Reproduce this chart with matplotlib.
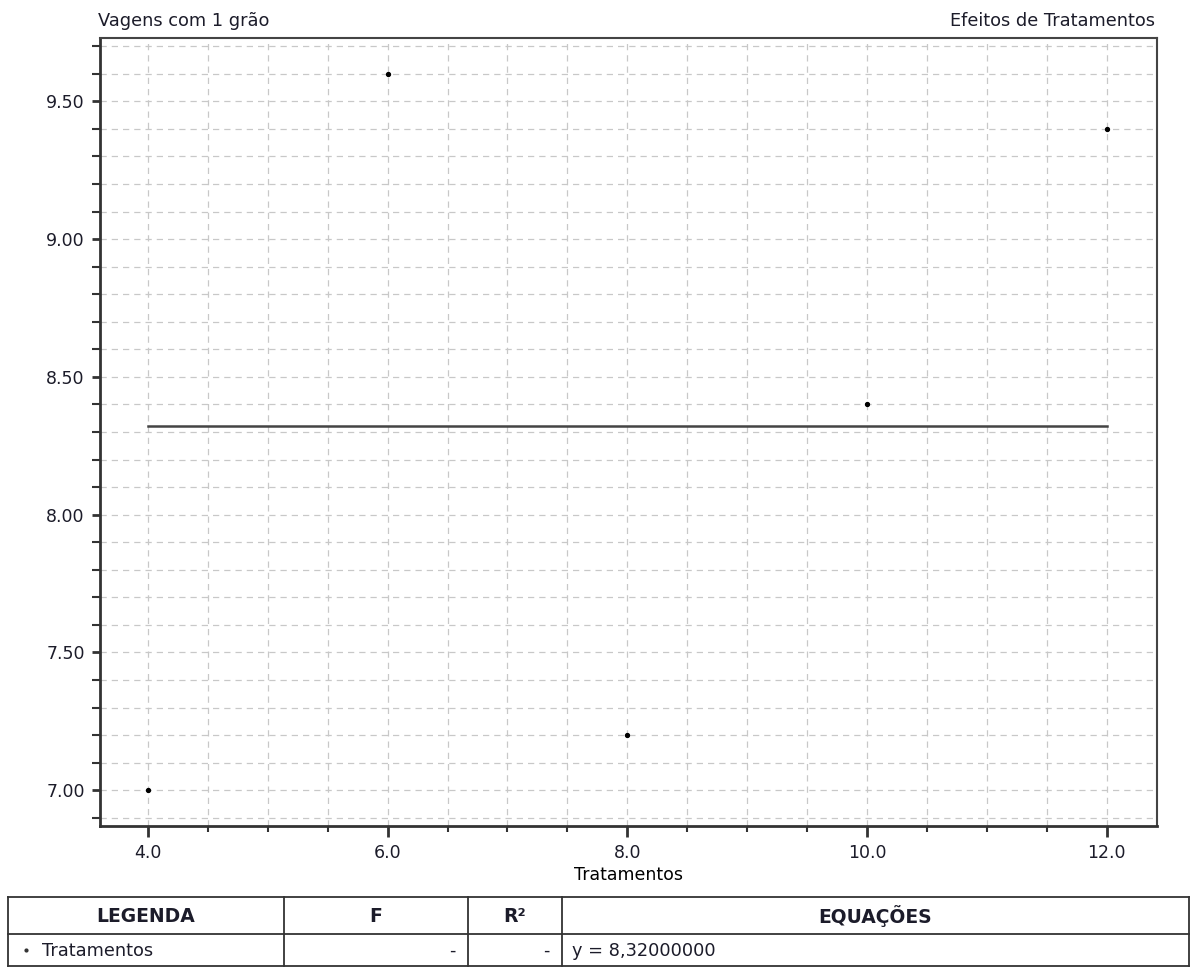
import numpy as np
import matplotlib.pyplot as plt
from matplotlib.ticker import MultipleLocator, FormatStrFormatter

plt.rcParams['font.family'] = ['DejaVu Sans']
plt.rcParams['text.color'] = '#1c1c2a'
plt.rcParams['xtick.labelcolor'] = '#1c1c2a'
plt.rcParams['ytick.labelcolor'] = '#1c1c2a'

# treatment levels and observed means
tratamentos = [4.0, 6.0, 8.0, 10.0, 12.0]
vagens = [7.0, 9.6, 7.2, 8.4, 9.4]
media = 8.32

# summary table below the chart
col_headers = ['LEGENDA', 'F', 'R²', 'EQUAÇÕES']
row_values = ['Tratamentos', '-', '-', 'y = 8,32000000']

W, H = 1192, 967
fig = plt.figure(figsize=(W / 100, H / 100), dpi=100)
ax = fig.add_axes([100 / W, 1 - 826 / H, (1157 - 100) / W, (826 - 38) / H])

ax.plot([tratamentos[0], tratamentos[-1]], [media, media], color='#444444', lw=1.8, zorder=3)
ax.plot(tratamentos, vagens, 'o', color='black', markersize=2.8, zorder=4)

ax.set_xlim(3.6, 12.42)
ax.set_ylim(6.87, 9.73)
ax.xaxis.set_major_locator(MultipleLocator(2.0))
ax.xaxis.set_minor_locator(MultipleLocator(0.5))
ax.yaxis.set_major_locator(MultipleLocator(0.5))
ax.yaxis.set_minor_locator(MultipleLocator(0.1))
ax.xaxis.set_major_formatter(FormatStrFormatter('%.1f'))
ax.yaxis.set_major_formatter(FormatStrFormatter('%.2f'))

ax.grid(which='both', color='#c8c8c8', linestyle=(0, (5, 4)), lw=0.9)
ax.set_axisbelow(True)

for side in ['left', 'bottom']:
    ax.spines[side].set_linewidth(2.0)
    ax.spines[side].set_color('#333333')
for side in ['top', 'right']:
    ax.spines[side].set_linewidth(1.5)
    ax.spines[side].set_color('#444444')

ax.tick_params(axis='x', which='major', length=8, width=2, color='#333333', labelsize=12.5, pad=5)
ax.tick_params(axis='x', which='minor', length=4, width=1.5, color='#333333')
ax.tick_params(axis='y', which='both', length=6, width=1.5, color='#333333', labelsize=12.5, pad=5)
ax.tick_params(axis='y', which='major', width=2)

ax.set_xlabel('Tratamentos', fontsize=12.5, labelpad=3)
fig.text(98 / W, 1 - 21 / H, 'Vagens com 1 grão', fontsize=12.8, ha='left', va='center')
fig.text(1155 / W, 1 - 21 / H, 'Efeitos de Tratamentos', fontsize=12.8, ha='right', va='center')

# table drawn in pixel coordinates
tab = fig.add_axes([0, 0, 1, 1], facecolor='none')
tab.set_xlim(0, W)
tab.set_ylim(H, 0)
tab.axis('off')

col_x = [8, 284, 468, 562, 1189]
top, mid, bot = 897, 934, 966
for y in [top, mid, bot]:
    tab.plot([col_x[0], col_x[-1]], [y, y], color='#333333', lw=1.3)
for x in col_x:
    tab.plot([x, x], [top, bot], color='#333333', lw=1.3)

for i, name in enumerate(col_headers):
    tab.text((col_x[i] + col_x[i + 1]) / 2, (top + mid) / 2 + 1, name,
             fontsize=13.5, fontweight='bold', ha='center', va='center')

row_y = (mid + bot) / 2 + 1
tab.plot(col_x[0] + 18, row_y - 1, 'o', color='#333333', markersize=2)
tab.text(col_x[0] + 34, row_y, row_values[0], fontsize=12.8, ha='left', va='center')
tab.text(col_x[2] - 12, row_y, row_values[1], fontsize=12.8, ha='right', va='center')
tab.text(col_x[3] - 12, row_y, row_values[2], fontsize=12.8, ha='right', va='center')
tab.text(col_x[3] + 10, row_y, row_values[3], fontsize=12.8, ha='left', va='center')

fig.savefig('out.png', dpi=100)
